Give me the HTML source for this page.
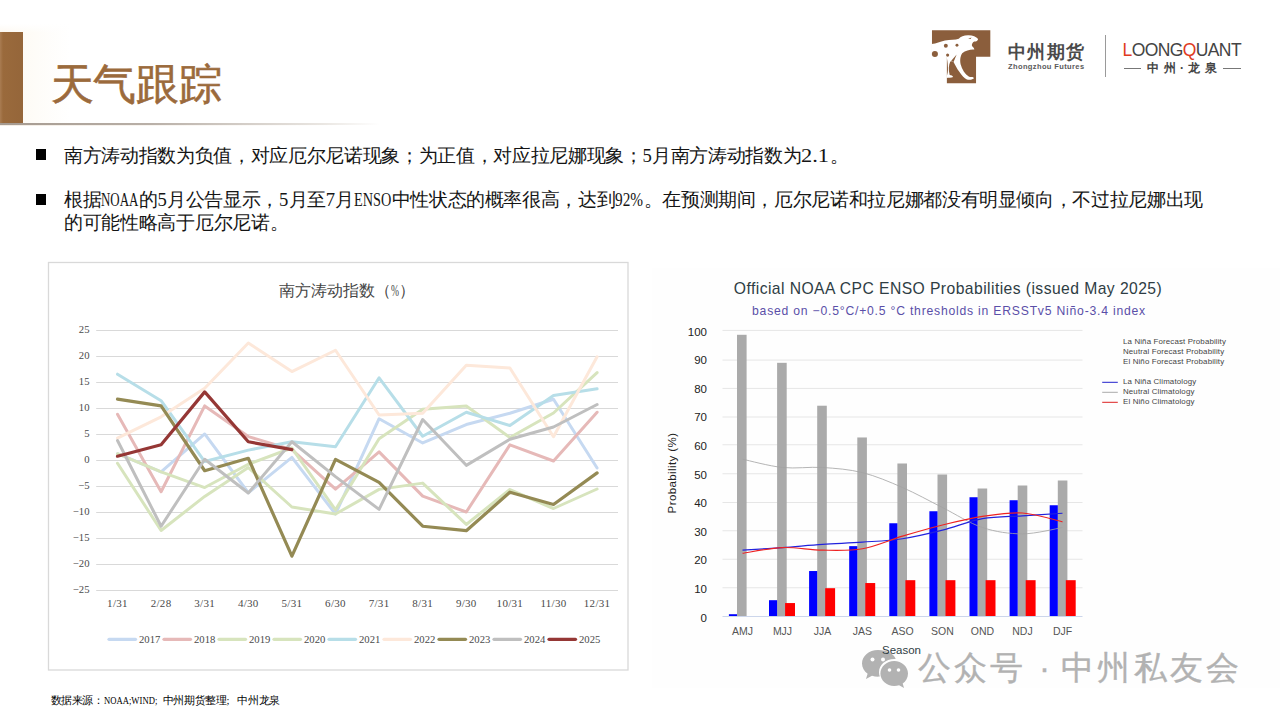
<!DOCTYPE html>
<html lang="zh">
<head>
<meta charset="utf-8">
<title>天气跟踪</title>
<style>
html,body{margin:0;padding:0;background:#fff;}
body{width:1280px;height:720px;position:relative;overflow:hidden;font-family:"Liberation Sans",sans-serif;color:#000;}
.abs{position:absolute;}
div{position:absolute;white-space:nowrap;}
.ax{font-family:"Liberation Serif",serif;font-size:10.67px;line-height:14px;color:#4a4a4a;}
.ry{font-size:11.5px;line-height:15px;color:#222;text-align:right;}
.rx{font-size:10.5px;line-height:14px;color:#555;width:40px;text-align:center;}
.rl{font-size:7.9px;line-height:10px;color:#444;letter-spacing:.14px;}
.body{font-size:18.67px;line-height:22px;color:#151515;}
.lat{font-family:"Liberation Serif",serif;display:inline-block;position:static;text-align:left;transform-origin:0 50%;white-space:nowrap;letter-spacing:0;}
.j{letter-spacing:-0.6px;text-align:justify;text-align-last:justify;}
.bullet{width:10.8px;height:10.5px;background:#000;}
</style>
</head>
<body>
<!-- header decoration -->
<div style="left:0;top:24px;width:300px;height:101px;background:linear-gradient(180deg,#fff 0,rgba(255,255,255,0) 9px),linear-gradient(90deg,#fdf8f0 0,#fefcf8 36px,#fff 70px);"></div>
<div style="left:0;top:32px;width:23px;height:93px;background:linear-gradient(90deg,#a97c52 0,#9a6a3c 3px,#95663a 100%);"></div>
<div style="left:0;top:123.4px;width:380px;height:1.8px;background:linear-gradient(90deg,#a59a90 0,#b9b0a8 40%,rgba(225,220,214,.7) 85%,rgba(255,255,255,0) 100%);"></div>
<div style="left:0;top:125.2px;width:380px;height:1.3px;background:linear-gradient(90deg,rgba(240,232,222,.8) 0,rgba(255,255,255,0) 90%);"></div>
<div class="j" style="left:50.5px;top:55px;width:169px;font-size:42.67px;line-height:58px;color:#9b6a3c;letter-spacing:-2px;-webkit-text-stroke:.6px #9b6a3c;">天气跟踪</div>

<!-- logo -->
<svg class="abs" style="left:920px;top:20px" width="90" height="75" viewBox="0 0 864 720">
<path d="M115,98H675V352H538V608H258V352H115Z" fill="#8b5e3c"/>
<path d="M112,230 C160,226 190,206 240,196 C290,188 340,190 372,179 C390,160 420,150 460,147 C500,145 540,160 558,182 C556,198 542,206 520,207 C505,215 494,235 499,250 C508,262 520,268 522,284 C490,280 440,290 405,320 C385,350 380,400 395,440 C410,490 450,540 480,548 C500,545 515,548 518,560 C510,572 480,578 450,572 C400,540 350,460 322,402 C310,395 300,395 290,400 C275,430 272,480 285,528 C300,530 315,533 318,548 C300,556 270,556 255,556 L255,540 C266,520 270,490 268,450 C266,410 262,380 255,356 L112,356 Z" fill="#fff"/>
<circle cx="248" cy="248" r="19" fill="#8b5e3c"/>
<circle cx="355" cy="243" r="14" fill="#8b5e3c"/>
<circle cx="265" cy="337" r="15" fill="#8b5e3c"/>
<circle cx="143" cy="327" r="29" fill="#8b5e3c"/>
<path d="M462,180 L495,168 L485,182 Z" fill="#8b5e3c"/>
<path d="M352,330 L300,392 L322,402 Z" fill="#8b5e3c"/>
</svg>
<div class="j" style="left:1007.5px;top:39.5px;width:76px;font-size:17.5px;line-height:24px;font-weight:bold;color:#4a4a4a;letter-spacing:-.5px;">中州期货</div>
<div style="left:1008px;top:62px;font-size:7.5px;line-height:10px;font-weight:bold;color:#5a5a5a;letter-spacing:.38px;">Zhongzhou Futures</div>
<div style="left:1105px;top:35px;width:1px;height:42px;background:#9a9a9a;"></div>
<div style="left:1122.5px;top:39.5px;font-size:17.5px;line-height:20px;color:#444;letter-spacing:-.6px;"><span style="color:#e03a1e">L</span>OONG<span style="color:#e03a1e">Q</span>UANT</div>
<div style="left:1123.5px;top:67.5px;width:17.5px;height:1px;background:#777;"></div>
<div style="left:1223px;top:67.5px;width:17.5px;height:1px;background:#777;"></div>
<div class="j" style="left:1147px;top:60px;width:69.5px;font-size:12px;line-height:16px;font-weight:bold;color:#444;letter-spacing:-.5px;">中州·龙泉</div>

<!-- bullets -->
<div class="bullet" style="left:35.5px;top:149px;"></div>
<div class="body j" style="left:64px;top:144.5px;width:784.1px;">南方涛动指数为负值，对应厄尔尼诺现象；为正值，对应拉尼娜现象；<span class="lat" style="width:9.33px;transform:scaleX(1.000)">5</span>月南方涛动指数为<span class="lat" style="width:28.00px;transform:scaleX(1.201)">2.1</span>。</div>
<div class="bullet" style="left:35.5px;top:194px;"></div>
<div class="body j" style="left:64px;top:189px;width:1138.7px;">根据<span class="lat" style="width:37.33px;transform:scaleX(0.693)">NOAA</span>的<span class="lat" style="width:9.33px;transform:scaleX(1.000)">5</span>月公告显示，<span class="lat" style="width:9.33px;transform:scaleX(1.000)">5</span>月至<span class="lat" style="width:9.33px;transform:scaleX(1.000)">7</span>月<span class="lat" style="width:37.33px;transform:scaleX(0.766)">ENSO</span>中性状态的概率很高，达到<span class="lat" style="width:28.00px;transform:scaleX(0.819)">92%</span>。在预测期间，厄尔尼诺和拉尼娜都没有明显倾向，不过拉尼娜出现</div>
<div class="body j" style="left:64px;top:212px;width:224px;">的可能性略高于厄尔尼诺。</div>

<!-- left chart -->
<svg class="abs" style="left:0;top:0" width="1280" height="720" viewBox="0 0 1280 720">
<rect x="48.5" y="262.5" width="579.5" height="407.5" fill="#fff" stroke="#d9d9d9" stroke-width="1.3"/>
<line x1="96.2" x2="618" y1="330.50" y2="330.50" stroke="#d9d9d9" stroke-width="1"/>
<line x1="96.2" x2="618" y1="356.50" y2="356.50" stroke="#d9d9d9" stroke-width="1"/>
<line x1="96.2" x2="618" y1="382.50" y2="382.50" stroke="#d9d9d9" stroke-width="1"/>
<line x1="96.2" x2="618" y1="408.50" y2="408.50" stroke="#d9d9d9" stroke-width="1"/>
<line x1="96.2" x2="618" y1="434.50" y2="434.50" stroke="#d9d9d9" stroke-width="1"/>
<line x1="96.2" x2="618" y1="460.50" y2="460.50" stroke="#d9d9d9" stroke-width="1"/>
<line x1="96.2" x2="618" y1="486.50" y2="486.50" stroke="#d9d9d9" stroke-width="1"/>
<line x1="96.2" x2="618" y1="512.50" y2="512.50" stroke="#d9d9d9" stroke-width="1"/>
<line x1="96.2" x2="618" y1="538.50" y2="538.50" stroke="#d9d9d9" stroke-width="1"/>
<line x1="96.2" x2="618" y1="564.50" y2="564.50" stroke="#d9d9d9" stroke-width="1"/>
<line x1="96.2" x2="618" y1="590.50" y2="590.50" stroke="#d9d9d9" stroke-width="1"/>
<polyline points="117.50,453.74 161.10,471.94 204.70,433.98 248.30,492.74 291.90,457.38 335.50,514.06 379.10,418.74 422.70,442.98 466.30,424.52 509.90,413.23 553.50,399.24 597.10,467.99" fill="none" stroke="#c6d9f1" stroke-width="3.0" stroke-linejoin="round" stroke-linecap="round"/>
<polyline points="117.50,414.22 161.10,491.70 204.70,405.90 248.30,436.58 291.90,449.58 335.50,489.10 379.10,451.92 422.70,496.12 466.30,511.98 509.90,444.90 553.50,461.02 597.10,412.24" fill="none" stroke="#e6b9b8" stroke-width="3.0" stroke-linejoin="round" stroke-linecap="round"/>
<polyline points="117.50,463.26 161.10,530.49 204.70,496.38 248.30,467.52 291.90,506.99 335.50,514.06 379.10,489.36 422.70,483.12 466.30,524.46 509.90,489.52 553.50,508.50 597.10,489.00" fill="none" stroke="#d7e4bd" stroke-width="3.0" stroke-linejoin="round" stroke-linecap="round"/>
<polyline points="117.50,453.74 161.10,471.94 204.70,487.54 248.30,464.24 291.90,448.02 335.50,509.90 379.10,438.66 422.70,409.23 466.30,406.00 509.90,437.52 553.50,413.02 597.10,372.62" fill="none" stroke="#d7e4bd" stroke-width="3.0" stroke-linejoin="round" stroke-linecap="round"/>
<polyline points="117.50,374.18 161.10,400.70 204.70,461.54 248.30,450.10 291.90,441.78 335.50,446.77 379.10,377.82 422.70,436.27 466.30,412.24 509.90,425.50 553.50,395.50 597.10,388.74" fill="none" stroke="#b7dee8" stroke-width="3.0" stroke-linejoin="round" stroke-linecap="round"/>
<polyline points="117.50,438.14 161.10,416.82 204.70,388.22 248.30,342.98 291.90,371.58 335.50,350.26 379.10,415.00 422.70,413.18 466.30,365.34 509.90,367.94 553.50,436.74 597.10,356.76" fill="none" stroke="#fde8da" stroke-width="3.0" stroke-linejoin="round" stroke-linecap="round"/>
<polyline points="117.50,399.14 161.10,405.90 204.70,470.74 248.30,458.26 291.90,556.18 335.50,459.36 379.10,482.34 422.70,526.23 466.30,530.70 509.90,492.22 553.50,504.49 597.10,472.88" fill="none" stroke="#948a54" stroke-width="3.2" stroke-linejoin="round" stroke-linecap="round"/>
<polyline points="117.50,440.48 161.10,526.23 204.70,459.25 248.30,493.00 291.90,441.78 335.50,476.62 379.10,509.38 422.70,419.52 466.30,465.34 509.90,439.23 553.50,427.01 597.10,404.50" fill="none" stroke="#bfbfbf" stroke-width="3.0" stroke-linejoin="round" stroke-linecap="round"/>
<polyline points="117.50,456.24 161.10,444.74 204.70,391.86 248.30,441.78 291.90,449.58" fill="none" stroke="#953735" stroke-width="3.2" stroke-linejoin="round" stroke-linecap="round"/>
<line x1="109" x2="135.5" y1="639.3" y2="639.3" stroke="#c6d9f1" stroke-width="3.2" stroke-linecap="round"/>
<line x1="164" x2="190.5" y1="639.3" y2="639.3" stroke="#e6b9b8" stroke-width="3.2" stroke-linecap="round"/>
<line x1="219" x2="245.5" y1="639.3" y2="639.3" stroke="#d7e4bd" stroke-width="3.2" stroke-linecap="round"/>
<line x1="274" x2="300.5" y1="639.3" y2="639.3" stroke="#d7e4bd" stroke-width="3.2" stroke-linecap="round"/>
<line x1="329" x2="355.5" y1="639.3" y2="639.3" stroke="#b7dee8" stroke-width="3.2" stroke-linecap="round"/>
<line x1="384" x2="410.5" y1="639.3" y2="639.3" stroke="#fde8da" stroke-width="3.2" stroke-linecap="round"/>
<line x1="439" x2="465.5" y1="639.3" y2="639.3" stroke="#948a54" stroke-width="3.2" stroke-linecap="round"/>
<line x1="494" x2="520.5" y1="639.3" y2="639.3" stroke="#bfbfbf" stroke-width="3.2" stroke-linecap="round"/>
<line x1="549" x2="575.5" y1="639.3" y2="639.3" stroke="#953735" stroke-width="3.2" stroke-linecap="round"/>
</svg>
<div class="j" style="left:278.7px;width:136px;top:281px;font-size:16px;line-height:20px;color:#454545;">南方涛动指数（<span class="lat" style="width:8px;transform:scaleX(0.600)">%</span>）</div>
<div class="ax" style="left:50px;width:39.5px;top:322.1px;text-align:right">25</div>
<div class="ax" style="left:50px;width:39.5px;top:348.1px;text-align:right">20</div>
<div class="ax" style="left:50px;width:39.5px;top:374.1px;text-align:right">15</div>
<div class="ax" style="left:50px;width:39.5px;top:400.1px;text-align:right">10</div>
<div class="ax" style="left:50px;width:39.5px;top:426.1px;text-align:right">5</div>
<div class="ax" style="left:50px;width:39.5px;top:452.1px;text-align:right">0</div>
<div class="ax" style="left:50px;width:39.5px;top:478.1px;text-align:right">−5</div>
<div class="ax" style="left:50px;width:39.5px;top:504.1px;text-align:right">−10</div>
<div class="ax" style="left:50px;width:39.5px;top:530.1px;text-align:right">−15</div>
<div class="ax" style="left:50px;width:39.5px;top:556.1px;text-align:right">−20</div>
<div class="ax" style="left:50px;width:39.5px;top:582.1px;text-align:right">−25</div>
<div class="ax" style="left:92.5px;width:50px;top:595.9px;text-align:center;font-size:11px;letter-spacing:.3px">1/31</div>
<div class="ax" style="left:136.1px;width:50px;top:595.9px;text-align:center;font-size:11px;letter-spacing:.3px">2/28</div>
<div class="ax" style="left:179.7px;width:50px;top:595.9px;text-align:center;font-size:11px;letter-spacing:.3px">3/31</div>
<div class="ax" style="left:223.3px;width:50px;top:595.9px;text-align:center;font-size:11px;letter-spacing:.3px">4/30</div>
<div class="ax" style="left:266.9px;width:50px;top:595.9px;text-align:center;font-size:11px;letter-spacing:.3px">5/31</div>
<div class="ax" style="left:310.5px;width:50px;top:595.9px;text-align:center;font-size:11px;letter-spacing:.3px">6/30</div>
<div class="ax" style="left:354.1px;width:50px;top:595.9px;text-align:center;font-size:11px;letter-spacing:.3px">7/31</div>
<div class="ax" style="left:397.7px;width:50px;top:595.9px;text-align:center;font-size:11px;letter-spacing:.3px">8/31</div>
<div class="ax" style="left:441.3px;width:50px;top:595.9px;text-align:center;font-size:11px;letter-spacing:.3px">9/30</div>
<div class="ax" style="left:484.9px;width:50px;top:595.9px;text-align:center;font-size:11px;letter-spacing:.3px">10/31</div>
<div class="ax" style="left:528.5px;width:50px;top:595.9px;text-align:center;font-size:11px;letter-spacing:.3px">11/30</div>
<div class="ax" style="left:572.1px;width:50px;top:595.9px;text-align:center;font-size:11px;letter-spacing:.3px">12/31</div>
<div class="ax" style="left:139px;top:632.2px">2017</div>
<div class="ax" style="left:194px;top:632.2px">2018</div>
<div class="ax" style="left:249px;top:632.2px">2019</div>
<div class="ax" style="left:304px;top:632.2px">2020</div>
<div class="ax" style="left:359px;top:632.2px">2021</div>
<div class="ax" style="left:414px;top:632.2px">2022</div>
<div class="ax" style="left:469px;top:632.2px">2023</div>
<div class="ax" style="left:524px;top:632.2px">2024</div>
<div class="ax" style="left:579px;top:632.2px">2025</div>

<!-- right chart -->
<div style="left:652px;top:268px;width:628px;height:420px;background:#fefefe;"></div>
<svg class="abs" style="left:0;top:0" width="1280" height="720" viewBox="0 0 1280 720">
<line x1="722.5" x2="1082.5" y1="587.75" y2="587.75" stroke="#e6e6e6" stroke-width="1"/>
<line x1="722.5" x2="1082.5" y1="559.25" y2="559.25" stroke="#e6e6e6" stroke-width="1"/>
<line x1="722.5" x2="1082.5" y1="530.75" y2="530.75" stroke="#e6e6e6" stroke-width="1"/>
<line x1="722.5" x2="1082.5" y1="502.50" y2="502.50" stroke="#e6e6e6" stroke-width="1"/>
<line x1="722.5" x2="1082.5" y1="473.75" y2="473.75" stroke="#e6e6e6" stroke-width="1"/>
<line x1="722.5" x2="1082.5" y1="444.75" y2="444.75" stroke="#e6e6e6" stroke-width="1"/>
<line x1="722.5" x2="1082.5" y1="417.00" y2="417.00" stroke="#e6e6e6" stroke-width="1"/>
<line x1="722.5" x2="1082.5" y1="388.40" y2="388.40" stroke="#e6e6e6" stroke-width="1"/>
<line x1="722.5" x2="1082.5" y1="360.10" y2="360.10" stroke="#e6e6e6" stroke-width="1"/>
<line x1="722.5" x2="1082.5" y1="330.40" y2="330.40" stroke="#e6e6e6" stroke-width="1"/>
<rect x="737.00" y="334.79" width="9.6" height="281.71" fill="#aaaaaa"/>
<rect x="728.90" y="614.21" width="8.1" height="2.29" fill="#0000ff"/>
<rect x="777.10" y="362.82" width="9.6" height="253.68" fill="#aaaaaa"/>
<rect x="769.00" y="600.20" width="8.1" height="16.30" fill="#0000ff"/>
<rect x="785.10" y="603.06" width="9.9" height="13.44" fill="#ff0000"/>
<rect x="817.20" y="405.72" width="9.6" height="210.78" fill="#aaaaaa"/>
<rect x="809.10" y="571.03" width="8.1" height="45.47" fill="#0000ff"/>
<rect x="825.20" y="588.19" width="9.9" height="28.31" fill="#ff0000"/>
<rect x="857.30" y="437.46" width="9.6" height="179.04" fill="#aaaaaa"/>
<rect x="849.20" y="546.14" width="8.1" height="70.36" fill="#0000ff"/>
<rect x="865.30" y="583.04" width="9.9" height="33.46" fill="#ff0000"/>
<rect x="897.40" y="463.49" width="9.6" height="153.01" fill="#aaaaaa"/>
<rect x="889.30" y="523.26" width="8.1" height="93.24" fill="#0000ff"/>
<rect x="905.40" y="580.18" width="9.9" height="36.32" fill="#ff0000"/>
<rect x="937.50" y="474.50" width="9.6" height="142.00" fill="#aaaaaa"/>
<rect x="929.40" y="511.25" width="8.1" height="105.25" fill="#0000ff"/>
<rect x="945.50" y="580.18" width="9.9" height="36.32" fill="#ff0000"/>
<rect x="977.60" y="488.51" width="9.6" height="127.98" fill="#aaaaaa"/>
<rect x="969.50" y="497.24" width="8.1" height="119.26" fill="#0000ff"/>
<rect x="985.60" y="580.18" width="9.9" height="36.32" fill="#ff0000"/>
<rect x="1017.70" y="485.51" width="9.6" height="130.99" fill="#aaaaaa"/>
<rect x="1009.60" y="500.24" width="8.1" height="116.26" fill="#0000ff"/>
<rect x="1025.70" y="580.18" width="9.9" height="36.32" fill="#ff0000"/>
<rect x="1057.80" y="480.51" width="9.6" height="135.99" fill="#aaaaaa"/>
<rect x="1049.70" y="505.25" width="8.1" height="111.25" fill="#0000ff"/>
<rect x="1065.80" y="580.18" width="9.9" height="36.32" fill="#ff0000"/>
<line x1="722.5" x2="1082.5" y1="616.5" y2="616.5" stroke="#ccd6eb" stroke-width="1"/>
<path d="M742.50,459.20 C749.17,460.58 769.17,466.11 782.50,467.49 C795.83,468.88 809.17,466.64 822.50,467.49 C835.83,468.35 849.17,469.31 862.50,472.64 C875.83,475.98 889.17,481.70 902.50,487.51 C915.83,493.33 929.17,500.86 942.50,507.53 C955.83,514.21 969.17,523.17 982.50,527.55 C995.83,531.94 1009.17,533.85 1022.50,533.85 C1035.83,533.85 1055.83,528.60 1062.50,527.55" fill="none" stroke="#a2a2a2" stroke-width="0.8"/>
<path d="M742.50,550.15 C749.17,549.72 769.17,548.53 782.50,547.57 C795.83,546.62 809.17,545.33 822.50,544.43 C835.83,543.52 849.17,543.09 862.50,542.14 C875.83,541.19 889.17,540.71 902.50,538.71 C915.83,536.71 929.17,533.46 942.50,530.13 C955.83,526.79 969.17,521.07 982.50,518.69 C995.83,516.30 1009.17,516.73 1022.50,515.83 C1035.83,514.92 1055.83,513.68 1062.50,513.25" fill="none" stroke="#2222dd" stroke-width="1.15"/>
<path d="M742.50,553.29 C749.17,552.34 769.17,548.10 782.50,547.57 C795.83,547.05 809.17,549.96 822.50,550.15 C835.83,550.34 849.17,551.05 862.50,548.72 C875.83,546.38 889.17,540.09 902.50,536.13 C915.83,532.18 929.17,528.27 942.50,524.98 C955.83,521.69 969.17,518.40 982.50,516.40 C995.83,514.40 1009.17,512.06 1022.50,512.97 C1035.83,513.87 1055.83,520.36 1062.50,521.83" fill="none" stroke="#ee2222" stroke-width="1.15"/>
<line x1="1102.2" x2="1117.8" y1="382.3" y2="382.3" stroke="#2222cc" stroke-width="1"/>
<line x1="1102.2" x2="1117.8" y1="392.3" y2="392.3" stroke="#aaaaaa" stroke-width="1"/>
<line x1="1102.2" x2="1117.8" y1="402.3" y2="402.3" stroke="#dd2222" stroke-width="1"/>
</svg>
<div style="left:721px;width:454px;top:279.2px;text-align:center;font-size:15.7px;line-height:20px;color:#2e3d44;letter-spacing:.43px;">Official NOAA CPC ENSO Probabilities (issued May 2025)</div>
<div style="left:722px;width:454px;top:303.2px;text-align:center;font-size:12.2px;line-height:16px;color:#5a4fa8;letter-spacing:.78px;">based on −0.5°C/+0.5 °C thresholds in ERSSTv5 Niño-3.4 index</div>
<div style="left:622.2px;top:466.3px;width:100px;height:14px;text-align:center;font-size:11.5px;line-height:14px;color:#222;transform:rotate(-90deg);letter-spacing:.4px;">Probability (%)</div>
<div style="left:882px;top:643px;font-size:11.5px;line-height:14px;color:#2e3d44;z-index:5;">Season</div>
<div class="ry" style="left:670px;width:37px;top:610.5px">0</div>
<div class="ry" style="left:670px;width:37px;top:581.9px">10</div>
<div class="ry" style="left:670px;width:37px;top:553.3px">20</div>
<div class="ry" style="left:670px;width:37px;top:524.7px">30</div>
<div class="ry" style="left:670px;width:37px;top:496.1px">40</div>
<div class="ry" style="left:670px;width:37px;top:467.5px">50</div>
<div class="ry" style="left:670px;width:37px;top:438.9px">60</div>
<div class="ry" style="left:670px;width:37px;top:410.3px">70</div>
<div class="ry" style="left:670px;width:37px;top:381.7px">80</div>
<div class="ry" style="left:670px;width:37px;top:353.1px">90</div>
<div class="ry" style="left:670px;width:37px;top:324.5px">100</div>
<div class="rx" style="left:722.5px;top:624px">AMJ</div>
<div class="rx" style="left:762.5px;top:624px">MJJ</div>
<div class="rx" style="left:802.5px;top:624px">JJA</div>
<div class="rx" style="left:842.5px;top:624px">JAS</div>
<div class="rx" style="left:882.5px;top:624px">ASO</div>
<div class="rx" style="left:922.5px;top:624px">SON</div>
<div class="rx" style="left:962.5px;top:624px">OND</div>
<div class="rx" style="left:1002.5px;top:624px">NDJ</div>
<div class="rx" style="left:1042.5px;top:624px">DJF</div>
<div class="rl" style="left:1123px;top:337.2px">La Niña Forecast Probability</div>
<div class="rl" style="left:1123px;top:347.2px">Neutral Forecast Probability</div>
<div class="rl" style="left:1123px;top:357.2px">El Niño Forecast Probability</div>
<div class="rl" style="left:1123px;top:377.3px">La Niña Climatology</div>
<div class="rl" style="left:1123px;top:387.3px">Neutral Climatology</div>
<div class="rl" style="left:1123px;top:397.3px">El Niño Climatology</div>

<!-- watermark -->
<svg class="abs" style="left:861px;top:647.5px" width="50" height="44" viewBox="0 0 50 44">
<path d="M17,2C8,2 1,8 1,15.5c0,4.2 2.2,7.8 5.6,10.3L5,31l6-3.2c1.9,.6 3.9,.9 6,.9 .6,0 1.200,0 1.800,-.1C18.300,27.200 18,25.700 18,24.200 18,16.900 24.900,11 33.200,11c.5,0 1,0 1.500,.1C33.300,5.800 25.900,2 17,2Z" fill="#b2b2b2"/>
<path d="M47,25.500C47,18.600 40.800,13 33.200,13S19.400,18.600 19.400,25.500 25.600,38 33.200,38c1.700,0 3.400,-.3 4.900,-.8L43,40l-1.300,-4.400C44.900,33.300 47,29.700 47,25.500Z" fill="#b2b2b2"/>
<circle cx="11.500" cy="11.500" r="2" fill="#fff"/><circle cx="22" cy="11.500" r="2" fill="#fff"/>
<circle cx="28.500" cy="22" r="1.800" fill="#fff"/><circle cx="37.500" cy="22" r="1.800" fill="#fff"/>
</svg>
<div class="j" style="left:918px;top:645.5px;width:320px;font-size:33px;line-height:44px;color:#b2b2b2;letter-spacing:-1px;-webkit-text-stroke:.35px #b2b2b2;">公众号 · 中州私友会</div>

<!-- footer -->
<div class="j" style="left:50.5px;top:693px;width:229.3px;font-size:10.67px;line-height:14px;color:#000;">数据来源：<span class="lat" style="width:58.6px;transform:scaleX(0.811)">NOAA;WIND;</span>中州期货整理<span class="lat" style="width:10.6px">;</span>中州龙泉</div>
</body>
</html>
